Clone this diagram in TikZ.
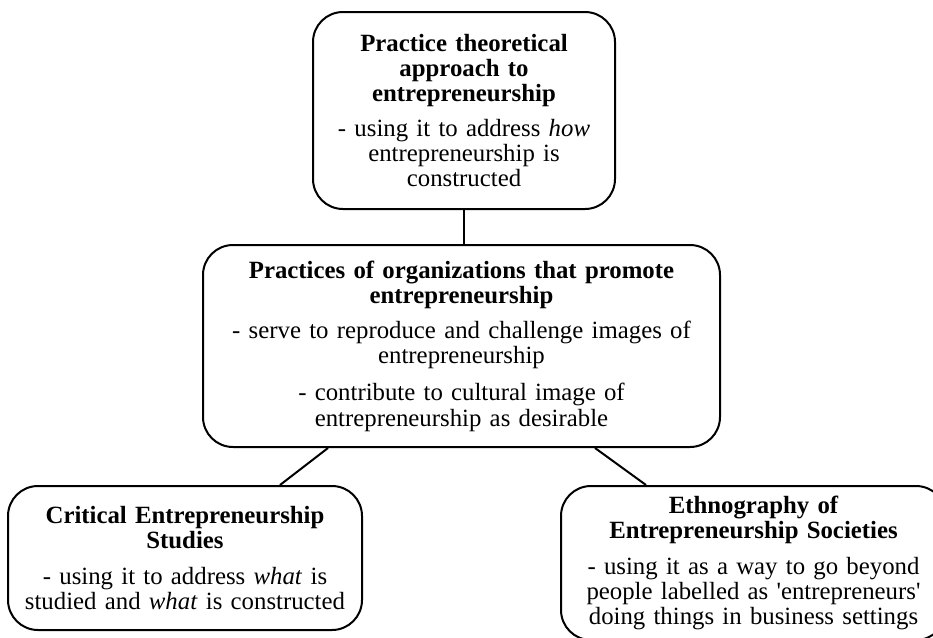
\documentclass[tikz,border=0pt]{standalone}
\usepackage{fontspec}
\setmainfont{Liberation Serif}[Ligatures=TeXOff]
\usetikzlibrary{positioning}

\begin{document}
\begin{tikzpicture}[x=0.5pt, y=-0.5pt, line width=1pt,
  every node/.style={draw, rounded corners=15pt, align=center, inner sep=0pt,
    font=\fontsize{12.4}{12.6}\selectfont}]
  \useasboundingbox (0,0) rectangle (933,638);
  \clip (0,0) rectangle (933,638);

  \node[minimum width=151pt, minimum height=98.5pt, text width=145pt] (theory) at (464,110.5)
    {\textbf{Practice theoretical\\approach to\\entrepreneurship}\\[4.5pt]
     - using it to address \textit{how}\\entrepreneurship is\\constructed};

  \node[minimum width=258.5pt, minimum height=101pt, text width=252pt] (orgs) at (461.5,346)
    {\textbf{Practices of organizations that promote\\entrepreneurship}\\[5pt]
     - serve to reproduce and challenge images of\\entrepreneurship\\[6pt]
     - contribute to cultural image of\\entrepreneurship as desirable};

  \node[minimum width=177pt, minimum height=72pt, text width=174pt] (ces) at (185,558)
    {\textbf{Critical Entrepreneurship\\Studies}\\[5pt]
     - using it to address \textit{what} is\\studied and \textit{what} is constructed};

  \node[minimum width=192.5pt, minimum height=77pt, text width=188pt] (ethno) at (753.5,563)
    {\textbf{Ethnography of\\Entrepreneurship Societies}\\[5pt]
     - using it as a way to go beyond\\people labelled as 'entrepreneurs'\\doing things in business settings};

  % Draw edges
  \draw (theory.south) -- (theory.south |- orgs.north);
  \draw ([xshift=-66.75pt]orgs.south) -- ([xshift=47.5pt]ces.north);
  \draw ([xshift=66.75pt]orgs.south) -- ([xshift=-53.75pt]ethno.north);
\end{tikzpicture}
\end{document}
